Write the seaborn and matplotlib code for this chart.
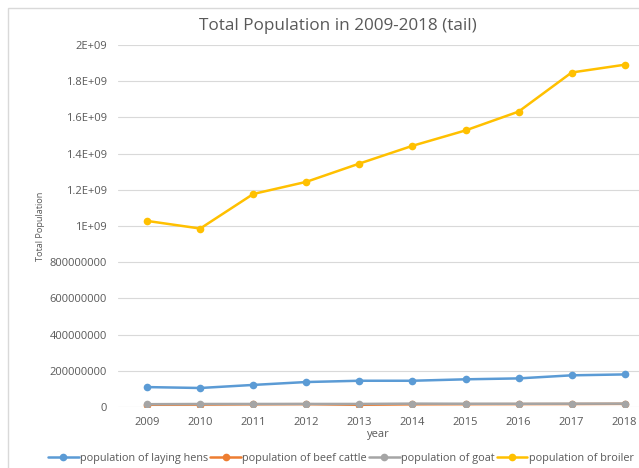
import pandas as pd
import matplotlib.pyplot as plt
import matplotlib.patches as patches
from matplotlib.ticker import FuncFormatter
import seaborn as sns

years = [2009, 2010, 2011, 2012, 2013, 2014, 2015, 2016, 2017, 2018]
laying_hens = [1.10e8, 1.05e8, 1.22e8, 1.38e8, 1.45e8, 1.45e8, 1.53e8, 1.58e8, 1.75e8, 1.80e8]
beef_cattle = [1.25e7, 1.32e7, 1.48e7, 1.57e7, 1.22e7, 1.47e7, 1.54e7, 1.60e7, 1.64e7, 1.74e7]
goat = [1.55e7, 1.66e7, 1.68e7, 1.69e7, 1.69e7, 1.87e7, 1.80e7, 1.79e7, 1.84e7, 1.87e7]
broiler = [1.028e9, 0.986e9, 1.177e9, 1.244e9, 1.345e9, 1.443e9, 1.528e9, 1.632e9, 1.848e9, 1.891e9]

series = {
    'population of laying hens': laying_hens,
    'population of beef cattle': beef_cattle,
    'population of goat': goat,
    'population of broiler': broiler,
}
colors = ['#5B9BD5', '#ED7D31', '#A5A5A5', '#FFC000']

rows = []
for name, vals in series.items():
    for i, (yr, v) in enumerate(zip(years, vals)):
        rows.append({'idx': i, 'year': yr, 'value': v, 'series': name})
df = pd.DataFrame(rows)

sns.set_theme(style='white')
plt.rcParams['font.family'] = ['Open Sans', 'DejaVu Sans']

fig = plt.figure(figsize=(6.39, 4.68), dpi=100)
# light chart-area border (cut off at the right and bottom like the reference)
fig.patches.append(patches.Rectangle((8 / 639, -0.1), 1.2, 1 - 8 / 468 + 0.1,
                                     transform=fig.transFigure, fill=False,
                                     edgecolor='#D9D9D9', linewidth=1.0))
ax = fig.add_axes([118 / 639, 61 / 468, 1 - 118 / 639, 362 / 468])

sns.lineplot(data=df, x='idx', y='value', hue='series', palette=colors,
             marker='o', markersize=5.5, markeredgewidth=0, linewidth=1.8,
             dashes=False, ax=ax, legend=True)


def excel_fmt(v, pos):
    if v == 0:
        return '0'
    if v >= 1e9:
        m = v / 1e9
        s = ('%.1f' % m).rstrip('0').rstrip('.')
        return s + 'E+09'
    return '%d' % v


ax.set_ylim(0, 2e9)
ax.set_yticks([i * 2e8 for i in range(11)])
ax.yaxis.set_major_formatter(FuncFormatter(excel_fmt))
ax.set_xlim(-0.55, 9.27)
ax.set_xticks(range(len(years)))
ax.set_xticklabels([str(y) for y in years])
ax.grid(axis='y', color='#D9D9D9', linewidth=0.8)
ax.set_axisbelow(True)
for s in ax.spines.values():
    s.set_visible(False)
ax.tick_params(axis='both', colors='#595959', labelsize=8, length=0)
ax.tick_params(axis='y', pad=8)
ax.tick_params(axis='x', pad=7)
ax.set_xlabel('year', fontsize=8, color='#595959', labelpad=1)
ax.set_ylabel('Total Population', fontsize=6.6, color='#595959', labelpad=3)

fig.text(338 / 639, 1 - 26 / 468, 'Total Population in 2009-2018 (tail)',
         ha='center', va='center', fontsize=12.3, color='#595959')

handles, labels = ax.get_legend_handles_labels()
ax.legend(handles, labels, loc='center', bbox_to_anchor=(341 / 639, 10 / 468),
          bbox_transform=fig.transFigure, ncol=4, frameon=False, fontsize=7.8,
          handlelength=2.8, columnspacing=0.2, handletextpad=0.15,
          labelcolor='#595959')

fig.savefig('out.png', dpi=100)
